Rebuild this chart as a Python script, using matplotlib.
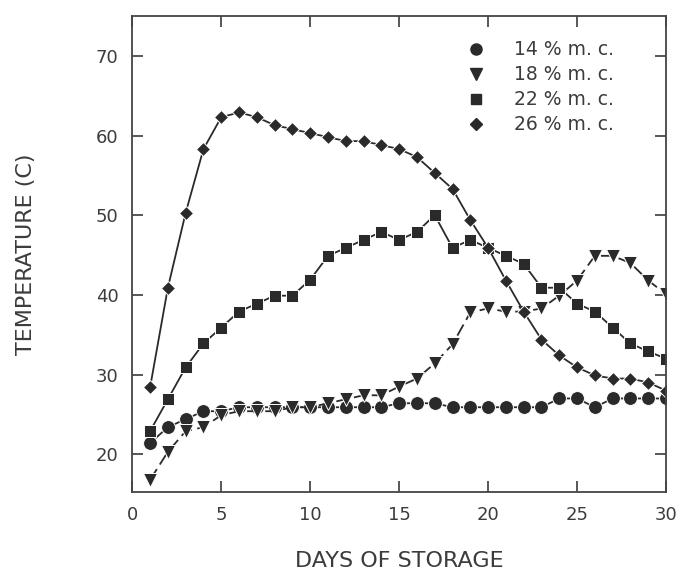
import numpy as np
import matplotlib
matplotlib.use('Agg')
import matplotlib.pyplot as plt

days = np.arange(1, 31)

mc14 = [21.4, 23.4, 24.4, 25.4, 25.4, 25.9, 25.9, 25.9, 25.9, 25.9,
        25.9, 25.9, 25.9, 25.9, 26.4, 26.4, 26.4, 25.9, 25.9, 25.9,
        25.9, 25.9, 25.9, 27.0, 27.0, 25.9, 27.0, 27.0, 27.0, 27.0]
mc18 = [16.8, 20.3, 22.9, 23.4, 24.9, 25.4, 25.4, 25.4, 25.9, 25.9,
        26.4, 26.9, 27.4, 27.4, 28.5, 29.5, 31.4, 33.8, 37.8, 38.3,
        37.9, 37.9, 38.3, 39.9, 41.8, 44.9, 44.9, 44.0, 41.8, 40.1]
mc22 = [22.9, 26.9, 30.9, 33.9, 35.9, 37.9, 38.9, 39.9, 39.9, 41.9,
        44.9, 45.9, 46.9, 47.9, 46.9, 47.9, 50.0, 45.9, 46.9, 45.9,
        44.9, 43.9, 40.9, 40.9, 38.9, 37.9, 35.9, 33.9, 32.9, 32.0]
mc26 = [28.4, 40.9, 50.3, 58.3, 62.3, 62.9, 62.3, 61.3, 60.8, 60.3,
        59.8, 59.3, 59.3, 58.8, 58.3, 57.3, 55.3, 53.3, 49.4, 45.9,
        41.8, 37.9, 34.4, 32.4, 30.9, 29.9, 29.5, 29.5, 29.0, 28.0]

labels = ['14 % m. c.', '18 % m. c.', '22 % m. c.', '26 % m. c.']

ink = '#2a2a2a'
txt = '#3c3c3c'

fig = plt.figure(figsize=(6.84, 5.74), dpi=100)
ax = fig.add_axes([132.3 / 684, 1 - 491.7 / 574, (666 - 132.3) / 684, (491.7 - 16) / 574])

common = dict(color=ink, lw=1.3, markeredgecolor='white', markeredgewidth=0.7, markerfacecolor=ink)
ax.plot(days, mc14, '-', marker='o', ms=10, **common)
ax.plot(days, mc18, marker='v', ms=9.5, ls=(0, (7, 3)), **common)
ax.plot(days, mc22, '-', marker='s', ms=8, **common)
ax.plot(days, mc26, '-', marker='D', ms=7.5, **common)

ax.set_xlim(0, 30)
ax.set_ylim(15.3, 75)
ax.set_xticks([0, 5, 10, 15, 20, 25, 30])
ax.set_yticks([20, 30, 40, 50, 60, 70])
ax.tick_params(direction='in', length=8, width=1.1, colors=ink, labelcolor=txt,
               labelsize=13, top=True, right=True, pad=10)
for s in ax.spines.values():
    s.set_color('#444444')
    s.set_linewidth(1.3)

ax.set_xlabel('DAYS OF STORAGE', fontsize=16, color=txt, labelpad=20)
ax.set_ylabel('TEMPERATURE (C)', fontsize=16, color=txt, labelpad=43)

handles = []
for m, ms in zip(['o', 'v', 's', 'D'], [8, 8, 6.5, 6]):
    h, = ax.plot([], [], ls='none', marker=m, ms=ms, color=ink)
    handles.append(h)
leg = ax.legend(handles, labels, loc='upper right', frameon=False, fontsize=13.5,
                handlelength=0.8, handletextpad=1.6, labelspacing=0.32,
                borderaxespad=0, bbox_to_anchor=(0.916, 0.965))
for t in leg.get_texts():
    t.set_color(txt)

fig.savefig('out.png', dpi=100, facecolor='white')
